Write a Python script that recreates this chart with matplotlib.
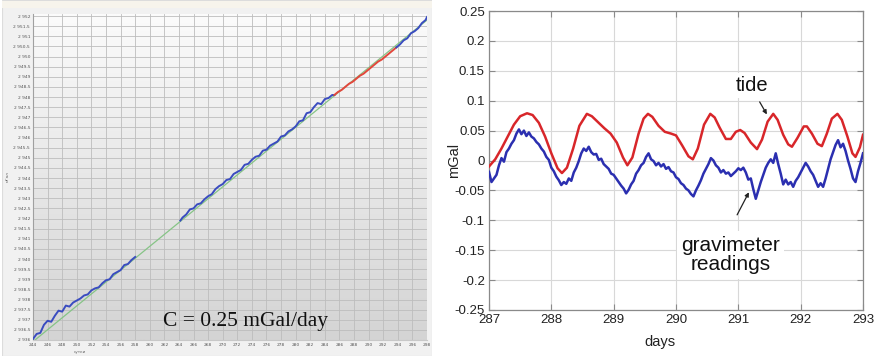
import matplotlib
matplotlib.use("Agg")
import matplotlib.pyplot as plt
import numpy as np
from matplotlib.patches import Rectangle
from matplotlib.colors import LinearSegmentedColormap

# ---------------- Left panel data (days, mGal) ----------------
trend_days = [244.0, 298.0]
trend_vals = [2935.92, 2951.80]

seg1_days = [244.0, 244.5, 245.0, 245.5, 246.0, 246.5, 247.0, 247.5, 248.0, 248.5,
             249.0, 249.5, 250.0, 250.5, 251.0, 251.5, 252.0, 252.5, 253.0, 253.5,
             254.0, 254.5, 255.0, 255.5, 256.0, 256.5, 257.0, 257.5, 258.0]
seg1_vals = [2936.05, 2936.30, 2936.35, 2936.75, 2936.95, 2936.90, 2937.20, 2937.45, 2937.40, 2937.70,
             2937.65, 2937.85, 2937.95, 2938.05, 2938.20, 2938.25, 2938.45, 2938.55, 2938.60, 2938.80,
             2938.95, 2939.00, 2939.25, 2939.35, 2939.45, 2939.70, 2939.75, 2939.95, 2940.10]

seg2_days = [264.2, 264.5, 265.0, 265.5, 266.0, 266.5, 267.0, 267.5, 268.0, 268.5,
             269.0, 269.5, 270.0, 270.5, 271.0, 271.5, 272.0, 272.5, 273.0, 273.5,
             274.0, 274.5, 275.0, 275.5, 276.0, 276.5, 277.0, 277.5, 278.0, 278.5,
             279.0, 279.5, 280.0, 280.5, 281.0, 281.5, 282.0, 282.5, 283.0, 283.5,
             284.0, 284.5, 285.0, 285.3]
seg2_vals = [2941.90, 2942.05, 2942.20, 2942.45, 2942.50, 2942.70, 2942.75, 2942.95, 2943.10, 2943.20,
             2943.45, 2943.60, 2943.70, 2943.90, 2943.95, 2944.20, 2944.30, 2944.40, 2944.65, 2944.70,
             2944.90, 2945.05, 2945.10, 2945.35, 2945.40, 2945.60, 2945.70, 2945.80, 2946.05, 2946.10,
             2946.30, 2946.40, 2946.55, 2946.80, 2946.85, 2947.20, 2947.25, 2947.50, 2947.70, 2947.65,
             2947.90, 2947.95, 2948.10, 2948.10]

red_days = [285.3, 285.8, 286.3, 286.8, 287.3, 287.8, 288.3, 288.8, 289.3, 289.8,
            290.3, 290.8, 291.3, 291.8, 292.3, 292.8, 293.3, 293.8]
red_vals = [2948.10, 2948.25, 2948.35, 2948.50, 2948.65, 2948.75, 2948.90, 2949.05, 2949.15, 2949.30,
            2949.45, 2949.60, 2949.75, 2949.85, 2950.00, 2950.15, 2950.30, 2950.45]

seg4_days = [293.8, 294.3, 294.8, 295.3, 295.8, 296.3, 296.8, 297.3, 297.8, 298.0]
seg4_vals = [2950.45, 2950.60, 2950.80, 2950.90, 2951.15, 2951.25, 2951.40, 2951.65, 2951.80, 2951.95]

left_xticks = list(range(244, 300, 2))
left_yticks = [2936 + 0.5 * i for i in range(33)]

# ---------------- Right panel data ----------------
tide_days = [287.00, 287.10, 287.20, 287.30, 287.40, 287.50, 287.61, 287.70, 287.80, 287.90,
             288.00, 288.10, 288.17, 288.25, 288.35, 288.45, 288.57, 288.65, 288.75, 288.85,
             288.95, 289.05, 289.15, 289.22, 289.30, 289.40, 289.48, 289.55, 289.62, 289.72,
             289.82, 289.92, 290.00, 290.10, 290.20, 290.27, 290.35, 290.45, 290.55, 290.62,
             290.70, 290.80, 290.88, 290.96, 291.03, 291.10, 291.20, 291.30, 291.38, 291.47,
             291.56, 291.63, 291.72, 291.80, 291.86, 291.95, 292.05, 292.10, 292.18, 292.27,
             292.34, 292.42, 292.50, 292.59, 292.66, 292.75, 292.83, 292.88, 292.95, 293.00]
tide_vals = [-0.010, 0.002, 0.020, 0.040, 0.060, 0.074, 0.079, 0.076, 0.063, 0.040,
             0.012, -0.013, -0.021, -0.012, 0.020, 0.058, 0.078, 0.074, 0.064, 0.054,
             0.045, 0.030, 0.005, -0.008, 0.005, 0.045, 0.070, 0.078, 0.073, 0.058,
             0.048, 0.045, 0.042, 0.025, 0.007, 0.002, 0.020, 0.060, 0.078, 0.072,
             0.055, 0.036, 0.036, 0.048, 0.051, 0.046, 0.030, 0.019, 0.035, 0.065,
             0.078, 0.068, 0.043, 0.027, 0.023, 0.038, 0.057, 0.057, 0.045, 0.028,
             0.024, 0.045, 0.070, 0.078, 0.068, 0.040, 0.012, 0.006, 0.022, 0.043]

grav_days = [round(287.0 + 0.04 * i, 2) for i in range(151)]
grav_vals = [-0.019, -0.036, -0.030, -0.024, -0.008, 0.004, -0.002, 0.014, 0.020, 0.028,
             0.034, 0.045, 0.052, 0.044, 0.050, 0.041, 0.047, 0.040, 0.037, 0.031,
             0.027, 0.020, 0.015, 0.006, 0.001, -0.012, -0.018, -0.027, -0.033, -0.041,
             -0.036, -0.039, -0.030, -0.034, -0.020, -0.012, -0.001, 0.012, 0.020, 0.016,
             0.023, 0.014, 0.010, 0.011, 0.001, 0.003, -0.006, -0.010, -0.014, -0.022,
             -0.024, -0.030, -0.036, -0.042, -0.047, -0.055, -0.049, -0.040, -0.034, -0.022,
             -0.016, -0.008, -0.004, 0.006, 0.012, 0.002, -0.001, -0.008, -0.004, -0.010,
             -0.006, -0.014, -0.011, -0.018, -0.020, -0.028, -0.031, -0.038, -0.041, -0.047,
             -0.050, -0.056, -0.060, -0.050, -0.042, -0.033, -0.022, -0.014, -0.006, 0.004,
             0.000, -0.008, -0.012, -0.020, -0.016, -0.022, -0.020, -0.026, -0.022, -0.018,
             -0.013, -0.016, -0.012, -0.020, -0.032, -0.030, -0.048, -0.064, -0.050, -0.036,
             -0.024, -0.012, -0.004, 0.002, -0.004, 0.012, -0.006, -0.022, -0.040, -0.032,
             -0.040, -0.036, -0.044, -0.034, -0.028, -0.020, -0.012, -0.004, -0.010, -0.018,
             -0.024, -0.034, -0.044, -0.038, -0.044, -0.030, -0.014, 0.002, 0.014, 0.026,
             0.034, 0.022, 0.028, 0.016, 0.000, -0.014, -0.030, -0.036, -0.018, -0.004,
             0.012]

right_xticks = [287, 288, 289, 290, 291, 292, 293]
right_yticks = [0.25, 0.2, 0.15, 0.1, 0.05, 0, -0.05, -0.1, -0.15, -0.2, -0.25]
right_ytick_labels = ['0.25', '0.2', '0.15', '0.1', '0.05', '0', '-0.05', '-0.1', '-0.15', '-0.2', '-0.25']

W, H = 876, 356
fig = plt.figure(figsize=(W / 100, H / 100), dpi=100)
fig.patch.set_facecolor('white')

# Left panel outer background (behind everything)
bg = fig.add_axes([2 / W, 0, 430 / W, 1.0], zorder=-5)
bg.set_xlim(0, 1)
bg.set_ylim(0, 1)
bg.axis('off')
bg.add_patch(Rectangle((0, 0), 1, 1, transform=bg.transAxes, facecolor='#f1f1f1',
                       edgecolor='#dcdcdc', lw=0.8))
bg.add_patch(Rectangle((0, 1 - 8 / H), 1, 7 / H, transform=bg.transAxes,
                       facecolor='#f7f4ec', edgecolor='none'))

ax1 = fig.add_axes([33 / W, 16 / H, 394 / W, 326 / H], zorder=1)
cmap = LinearSegmentedColormap.from_list('bg', ['#d4d4d4', '#fbfbfb'])
grad = np.linspace(0, 1, 256).reshape(-1, 1)
ax1.imshow(grad, extent=[0, 1, 0, 1], transform=ax1.transAxes, aspect='auto',
           cmap=cmap, origin='lower', zorder=0)
ax1.set_xlim(244, 298)
ax1.set_ylim(2936, 2952.1)
ax1.set_xticks(left_xticks)
ax1.set_xticklabels([str(v) for v in left_xticks])
ax1.set_yticks(left_yticks)
ax1.set_yticklabels([('%d' % v if v == int(v) else ('%.1f' % v).replace('.', ',')).replace('29', '2 9', 1)
                     for v in left_yticks])
ax1.tick_params(axis='both', labelsize=3.2, colors='#555555', length=0, pad=2)
ax1.grid(True, color='#bdbdbd', lw=0.6, zorder=1)
for s in ['top', 'right']:
    ax1.spines[s].set_visible(False)
ax1.spines['left'].set_color('#a0a0a0')
ax1.spines['bottom'].set_color('#c8c8c8')
ax1.plot(trend_days, trend_vals, color='#86c486', lw=0.9, zorder=2)
ax1.plot(seg1_days, seg1_vals, color='#3a4cc0', lw=1.4, zorder=3)
ax1.plot(seg2_days, seg2_vals, color='#3a4cc0', lw=1.4, zorder=3)
ax1.plot(red_days, red_vals, color='#e2473c', lw=1.4, zorder=3)
ax1.plot(seg4_days, seg4_vals, color='#3a4cc0', lw=1.4, zorder=3)
ax1.set_ylabel('мГал', fontsize=3, color='#666666', labelpad=3)
ax1.set_xlabel('сутки', fontsize=3, color='#666666', labelpad=2)
ax1.xaxis.set_label_coords(0.12, -0.03)
ax1.text(0.54, 0.058, 'C = 0.25 mGal/day', transform=ax1.transAxes, ha='center', va='center',
         fontsize=15.5, family='Liberation Serif', color='#111111', zorder=5)

# Right panel
ax2 = fig.add_axes([489 / W, 46 / H, 374 / W, 299 / H])
ax2.set_xlim(287, 293)
ax2.set_ylim(-0.25, 0.25)
ax2.set_xticks(right_xticks)
ax2.set_yticks(right_yticks)
ax2.set_yticklabels(right_ytick_labels)
ax2.grid(True, color='#d8d8d8', lw=0.8)
ax2.set_axisbelow(True)
for s in ax2.spines.values():
    s.set_color('#8a8a8a')
    s.set_linewidth(0.9)
ax2.tick_params(axis='both', direction='in', length=4, width=0.8, color='#8a8a8a',
                labelsize=9.5, labelcolor='#222222', top=True, right=True, pad=3)
for lab in ax2.get_xticklabels() + ax2.get_yticklabels():
    lab.set_family('Liberation Sans')
ax2.plot(tide_days, tide_vals, color='#d8262a', lw=1.8, zorder=3)
ax2.plot(grav_days, grav_vals, color='#2b2fb0', lw=1.8, zorder=3)
ax2.set_ylabel('mGal', fontsize=10.5, family='Liberation Sans', color='#222222')
ax2.yaxis.set_label_coords(-0.075, 0.5)
ax2.set_xlabel('days', fontsize=10.5, family='Liberation Sans', color='#222222')
ax2.xaxis.set_label_coords(0.457, -0.085)

ax2.text(291.22, 0.125, 'tide', ha='center', va='center', fontsize=14.5,
         family='Liberation Sans', color='#111111', zorder=4,
         bbox=dict(facecolor='white', edgecolor='none', pad=2))
ax2.annotate('', xy=(291.48, 0.073), xytext=(291.32, 0.102),
             arrowprops=dict(arrowstyle='-|>', color='#222222', lw=0.9, mutation_scale=6), zorder=5)
ax2.text(290.87, -0.158, 'gravimeter\nreadings', ha='center', va='center', fontsize=15,
         family='Liberation Sans', color='#111111', linespacing=1.05, zorder=4,
         bbox=dict(facecolor='white', edgecolor='none', pad=3))
ax2.annotate('', xy=(291.19, -0.049), xytext=(290.96, -0.095),
             arrowprops=dict(arrowstyle='-|>', color='#222222', lw=0.9, mutation_scale=6), zorder=5)

fig.savefig('out.png', dpi=100)
